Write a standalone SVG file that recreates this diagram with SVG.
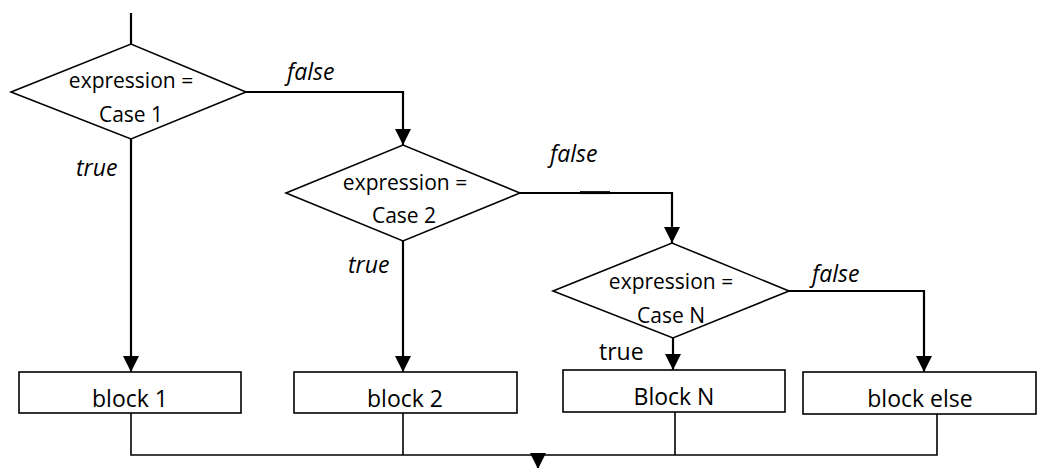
<svg xmlns="http://www.w3.org/2000/svg" width="1038" height="468" viewBox="0 0 1038 468">
<style>
.shape{fill:#fff;stroke:#000;stroke-width:1.6}
.t{font-family:"Open Sans","Noto Sans",sans-serif;font-size:21px;fill:#000;text-anchor:middle}
.b{font-size:23px}
.lbl{font-family:"Open Sans","Noto Sans",sans-serif;font-size:23px;fill:#000}
.it{font-style:italic}
.arrow{fill:none;stroke:#000;stroke-width:2.2}
.join{fill:none;stroke:#000;stroke-width:1.6}
</style>
<defs>
<marker id="ah" markerUnits="userSpaceOnUse" markerWidth="18" markerHeight="18" viewBox="0 0 18 18" refX="16" refY="9" orient="auto">
<path d="M0,1 L16,9 L0,17 Z" fill="#000"/>
</marker>
</defs>
<g id="connectors">
<line class="arrow" x1="131" y1="13" x2="131" y2="44"/>
<path class="arrow" d="M246,92 H403 V145" marker-end="url(#ah)"/>
<path class="arrow" d="M131,139 V372" marker-end="url(#ah)"/>
<path class="arrow" d="M520,193 H672 V243" marker-end="url(#ah)"/>
<line x1="580" y1="192.6" x2="610" y2="192.6" stroke="#000" stroke-width="3"/>
<path class="arrow" d="M403,241 V372" marker-end="url(#ah)"/>
<path class="arrow" d="M673,338 V370" marker-end="url(#ah)"/>
<path class="arrow" d="M789,291 H924 V372" marker-end="url(#ah)"/>
<path class="join" d="M131,413 V455 H937 V414"/>
<line class="join" x1="403" y1="413" x2="403" y2="455"/>
<line class="join" x1="675" y1="412" x2="675" y2="455"/>
<path class="arrow" d="M538,455 V469" marker-end="url(#ah)"/>
<text class="lbl it" x="287" y="80">false</text>
<text class="lbl it" x="76" y="176">true</text>
<text class="lbl it" x="550" y="162">false</text>
<text class="lbl it" x="348" y="273">true</text>
<text class="lbl it" x="812" y="282">false</text>
<text class="lbl" x="599" y="360">true</text>
</g>
<g id="decision1">
<polygon class="shape" points="11,92 131,44 246,92 131,139"/>
<text class="t" x="131" y="88">expression =</text>
<text class="t" x="131" y="122">Case 1</text>
</g>
<g id="decision2">
<polygon class="shape" points="286,193 403,145 520,193 403,241"/>
<text class="t" x="405" y="190">expression =</text>
<text class="t" x="404" y="223">Case 2</text>
</g>
<g id="decisionN">
<polygon class="shape" points="553,291 672,243 789,291 673,338"/>
<text class="t" x="671" y="289">expression =</text>
<text class="t" x="671" y="323">Case N</text>
</g>
<g id="block1">
<rect class="shape" x="19" y="372" width="222" height="41"/>
<text class="t b" x="130" y="407">block 1</text>
</g>
<g id="block2">
<rect class="shape" x="294" y="372" width="223" height="41"/>
<text class="t b" x="405" y="407">block 2</text>
</g>
<g id="blockN">
<rect class="shape" x="563" y="370" width="222" height="42"/>
<text class="t b" x="674" y="405">Block N</text>
</g>
<g id="blockElse">
<rect class="shape" x="803" y="372" width="233" height="42"/>
<text class="t b" x="920" y="407">block else</text>
</g>
</svg>
